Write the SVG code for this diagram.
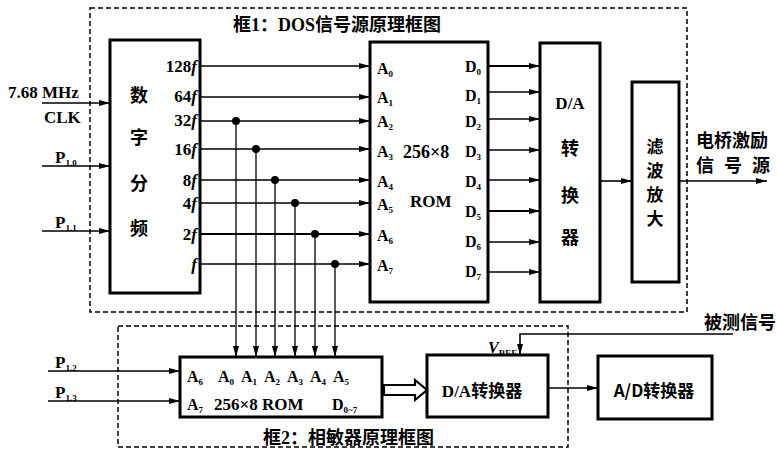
<svg xmlns="http://www.w3.org/2000/svg" width="777" height="450" viewBox="0 0 777 450">
<style>
.frame{fill:none;stroke:#000;stroke-width:1.5;stroke-dasharray:5,3}
.box{fill:#fff;stroke:#000;stroke-width:3}
.ln{stroke:#000;stroke-width:1.6;fill:none}
.t{font-family:"Liberation Serif","Noto Sans CJK SC",serif;font-size:16px;font-weight:bold;fill:#000}
.tb{font-family:"Liberation Serif","Noto Sans CJK SC",serif;font-size:18px;font-weight:bold;fill:#000}
.cn{font-family:"Noto Sans CJK SC",sans-serif;font-size:18px;fill:#000;font-weight:bold}
.sub{font-size:9px}
.it{font-style:italic}
.dot{fill:#000}
</style>
<defs>
<marker id="ah" markerUnits="userSpaceOnUse" markerWidth="12" markerHeight="8" refX="11" refY="4" orient="auto">
<path d="M0,1 L11,4 L0,7 Z" fill="#000"/>
</marker>
</defs>

<g id="frame1">
<rect class="frame" x="90" y="8" width="597" height="304"/>
<text class="tb" x="233" y="31">框1：DOS信号源原理框图</text>
</g>
<g id="frame2">
<rect class="frame" x="118" y="326" width="450" height="121"/>
<text class="tb" x="263" y="444">框2：相敏器原理框图</text>
</g>

<g id="divider">
<rect class="box" x="110" y="40" width="90" height="253"/>
<text class="cn" x="130" y="102">数</text>
<text class="cn" x="130" y="144">字</text>
<text class="cn" x="130" y="190">分</text>
<text class="cn" x="130" y="235">频</text>
<g class="t" text-anchor="end" style="font-size:17px">
<text x="197" y="72">128<tspan class="it">f</tspan></text>
<text x="197" y="102">64<tspan class="it">f</tspan></text>
<text x="197" y="126">32<tspan class="it">f</tspan></text>
<text x="197" y="155">16<tspan class="it">f</tspan></text>
<text x="197" y="186">8<tspan class="it">f</tspan></text>
<text x="197" y="209">4<tspan class="it">f</tspan></text>
<text x="197" y="240">2<tspan class="it">f</tspan></text>
<text x="197" y="270"><tspan class="it">f</tspan></text>
</g>
</g>

<g id="rom1">
<rect class="box" x="370" y="42" width="118" height="260"/>
<g class="t">
<text x="377" y="74">A<tspan class="sub" dy="3">0</tspan></text>
<text x="377" y="103">A<tspan class="sub" dy="3">1</tspan></text>
<text x="377" y="127">A<tspan class="sub" dy="3">2</tspan></text>
<text x="377" y="157">A<tspan class="sub" dy="3">3</tspan></text>
<text x="377" y="187">A<tspan class="sub" dy="3">4</tspan></text>
<text x="377" y="210">A<tspan class="sub" dy="3">5</tspan></text>
<text x="377" y="241">A<tspan class="sub" dy="3">6</tspan></text>
<text x="377" y="271">A<tspan class="sub" dy="3">7</tspan></text>
<text x="403" y="158" style="font-size:18px">256×8</text>
<text x="410" y="207" style="font-size:17px">ROM</text>
<text x="465" y="72">D<tspan class="sub" dy="3">0</tspan></text>
<text x="465" y="101">D<tspan class="sub" dy="3">1</tspan></text>
<text x="465" y="127">D<tspan class="sub" dy="3">2</tspan></text>
<text x="465" y="157">D<tspan class="sub" dy="3">3</tspan></text>
<text x="465" y="187">D<tspan class="sub" dy="3">4</tspan></text>
<text x="465" y="217">D<tspan class="sub" dy="3">5</tspan></text>
<text x="465" y="247">D<tspan class="sub" dy="3">6</tspan></text>
<text x="465" y="277">D<tspan class="sub" dy="3">7</tspan></text>
</g>
</g>

<g id="da1">
<rect class="box" x="540" y="43" width="60" height="259"/>
<text class="tb" x="570" y="109" text-anchor="middle" style="font-size:17px">D/A</text>
<text class="cn" x="570" y="155" text-anchor="middle">转</text>
<text class="cn" x="570" y="202" text-anchor="middle">换</text>
<text class="cn" x="570" y="244" text-anchor="middle">器</text>
</g>

<g id="filter">
<rect class="box" x="632" y="82" width="47" height="200"/>
<text class="cn" x="655" y="153" text-anchor="middle" style="font-size:17px">滤</text>
<text class="cn" x="655" y="177" text-anchor="middle" style="font-size:17px">波</text>
<text class="cn" x="655" y="201" text-anchor="middle" style="font-size:17px">放</text>
<text class="cn" x="655" y="225" text-anchor="middle" style="font-size:17px">大</text>
</g>

<g id="labels">
<text class="t" x="8" y="98" style="font-size:17px">7.68 MHz</text>
<text class="t" x="44" y="123" style="font-size:17px">CLK</text>
<text class="t" x="55" y="163" style="font-size:17px">P<tspan class="sub" dy="3">1.0</tspan></text>
<text class="t" x="55" y="228" style="font-size:17px">P<tspan class="sub" dy="3">1.1</tspan></text>
<text class="cn" x="696" y="147">电桥激励</text>
<text class="cn" x="696" y="172" textLength="74">信 号 源</text>
<text class="cn" x="704" y="329">被测信号</text>
<text class="t" x="55" y="368" style="font-size:17px">P<tspan class="sub" dy="3">1.2</tspan></text>
<text class="t" x="55" y="398" style="font-size:17px">P<tspan class="sub" dy="3">1.3</tspan></text>
<text class="t" x="488" y="353"><tspan class="it">V</tspan><tspan class="sub" dy="3">REF</tspan></text>
</g>

<g id="rom2">
<rect class="box" x="180" y="357" width="202" height="60"/>
<g class="t">
<text x="187" y="382">A<tspan class="sub" dy="3">6</tspan></text>
<text x="218" y="382">A<tspan class="sub" dy="3">0</tspan></text>
<text x="241" y="382">A<tspan class="sub" dy="3">1</tspan></text>
<text x="264" y="382">A<tspan class="sub" dy="3">2</tspan></text>
<text x="287" y="382">A<tspan class="sub" dy="3">3</tspan></text>
<text x="310" y="382">A<tspan class="sub" dy="3">4</tspan></text>
<text x="333" y="382">A<tspan class="sub" dy="3">5</tspan></text>
<text x="187" y="410">A<tspan class="sub" dy="3">7</tspan></text>
<text x="214" y="410" style="font-size:17px">256×8 ROM</text>
<text x="332" y="410">D<tspan class="sub" dy="3">0~7</tspan></text>
</g>
</g>

<g id="da2">
<rect class="box" x="427" y="355" width="121" height="62"/>
<text class="cn" x="482" y="397" text-anchor="middle" style="font-family:'Liberation Serif','Noto Sans CJK SC',serif;font-size:17px">D/A转换器</text>
</g>

<g id="ad">
<rect class="box" x="598" y="356" width="114" height="63"/>
<text class="cn" x="654" y="397" text-anchor="middle" style="font-size:17px">A/D转换器</text>
</g>

<g id="connectors">
<line class="ln" x1="42" y1="103" x2="110" y2="103" marker-end="url(#ah)"/>
<line class="ln" x1="42" y1="166" x2="110" y2="166" marker-end="url(#ah)"/>
<line class="ln" x1="42" y1="231" x2="110" y2="231" marker-end="url(#ah)"/>

<line class="ln" x1="200" y1="66" x2="370" y2="66" marker-end="url(#ah)"/>
<line class="ln" x1="200" y1="97" x2="370" y2="97" marker-end="url(#ah)"/>
<line class="ln" x1="200" y1="121" x2="370" y2="121" marker-end="url(#ah)"/>
<line class="ln" x1="200" y1="149" x2="370" y2="149" marker-end="url(#ah)"/>
<line class="ln" x1="200" y1="180" x2="370" y2="180" marker-end="url(#ah)"/>
<line class="ln" x1="200" y1="203" x2="370" y2="203" marker-end="url(#ah)"/>
<line class="ln" x1="200" y1="234" x2="370" y2="234" marker-end="url(#ah)" style="stroke-width:2.2"/>
<line class="ln" x1="200" y1="264" x2="370" y2="264" marker-end="url(#ah)"/>

<circle class="dot" cx="236" cy="121" r="4"/>
<circle class="dot" cx="256" cy="149" r="4"/>
<circle class="dot" cx="275" cy="180" r="4"/>
<circle class="dot" cx="295" cy="203" r="4"/>
<circle class="dot" cx="315" cy="234" r="4"/>
<circle class="dot" cx="335" cy="264" r="4"/>
<line class="ln" x1="236" y1="121" x2="236" y2="357" marker-end="url(#ah)" style="stroke-width:1.3"/>
<line class="ln" x1="256" y1="149" x2="256" y2="357" marker-end="url(#ah)" style="stroke-width:1.3"/>
<line class="ln" x1="275" y1="180" x2="275" y2="357" marker-end="url(#ah)" style="stroke-width:1.3"/>
<line class="ln" x1="295" y1="203" x2="295" y2="357" marker-end="url(#ah)" style="stroke-width:1.3"/>
<line class="ln" x1="315" y1="234" x2="315" y2="357" marker-end="url(#ah)" style="stroke-width:1.3"/>
<line class="ln" x1="335" y1="264" x2="335" y2="357" marker-end="url(#ah)" style="stroke-width:1.3"/>

<line class="ln" x1="488" y1="66" x2="540" y2="66" marker-end="url(#ah)" style="stroke-width:2.2"/>
<line class="ln" x1="488" y1="92" x2="540" y2="92" marker-end="url(#ah)"/>
<line class="ln" x1="488" y1="119" x2="540" y2="119" marker-end="url(#ah)"/>
<line class="ln" x1="488" y1="150" x2="540" y2="150" marker-end="url(#ah)"/>
<line class="ln" x1="488" y1="180" x2="540" y2="180" marker-end="url(#ah)"/>
<line class="ln" x1="488" y1="211" x2="540" y2="211" marker-end="url(#ah)" style="stroke-width:2.2"/>
<line class="ln" x1="488" y1="242" x2="540" y2="242" marker-end="url(#ah)"/>
<line class="ln" x1="488" y1="272" x2="540" y2="272" marker-end="url(#ah)"/>

<line class="ln" x1="600" y1="181" x2="632" y2="181" marker-end="url(#ah)"/>
<line class="ln" x1="679" y1="181" x2="767" y2="181" marker-end="url(#ah)"/>

<line class="ln" x1="48" y1="371" x2="180" y2="371" marker-end="url(#ah)"/>
<line class="ln" x1="48" y1="401" x2="180" y2="401" marker-end="url(#ah)"/>

<path d="M384,385 H415 V380 L427,390 L415,400 V395 H384 Z" fill="#fff" stroke="#000" stroke-width="2.2"/>

<path class="ln" d="M733,334 H520 V355" marker-end="url(#ah)"/>
<line class="ln" x1="548" y1="388" x2="598" y2="388" marker-end="url(#ah)"/>
</g>
</svg>
